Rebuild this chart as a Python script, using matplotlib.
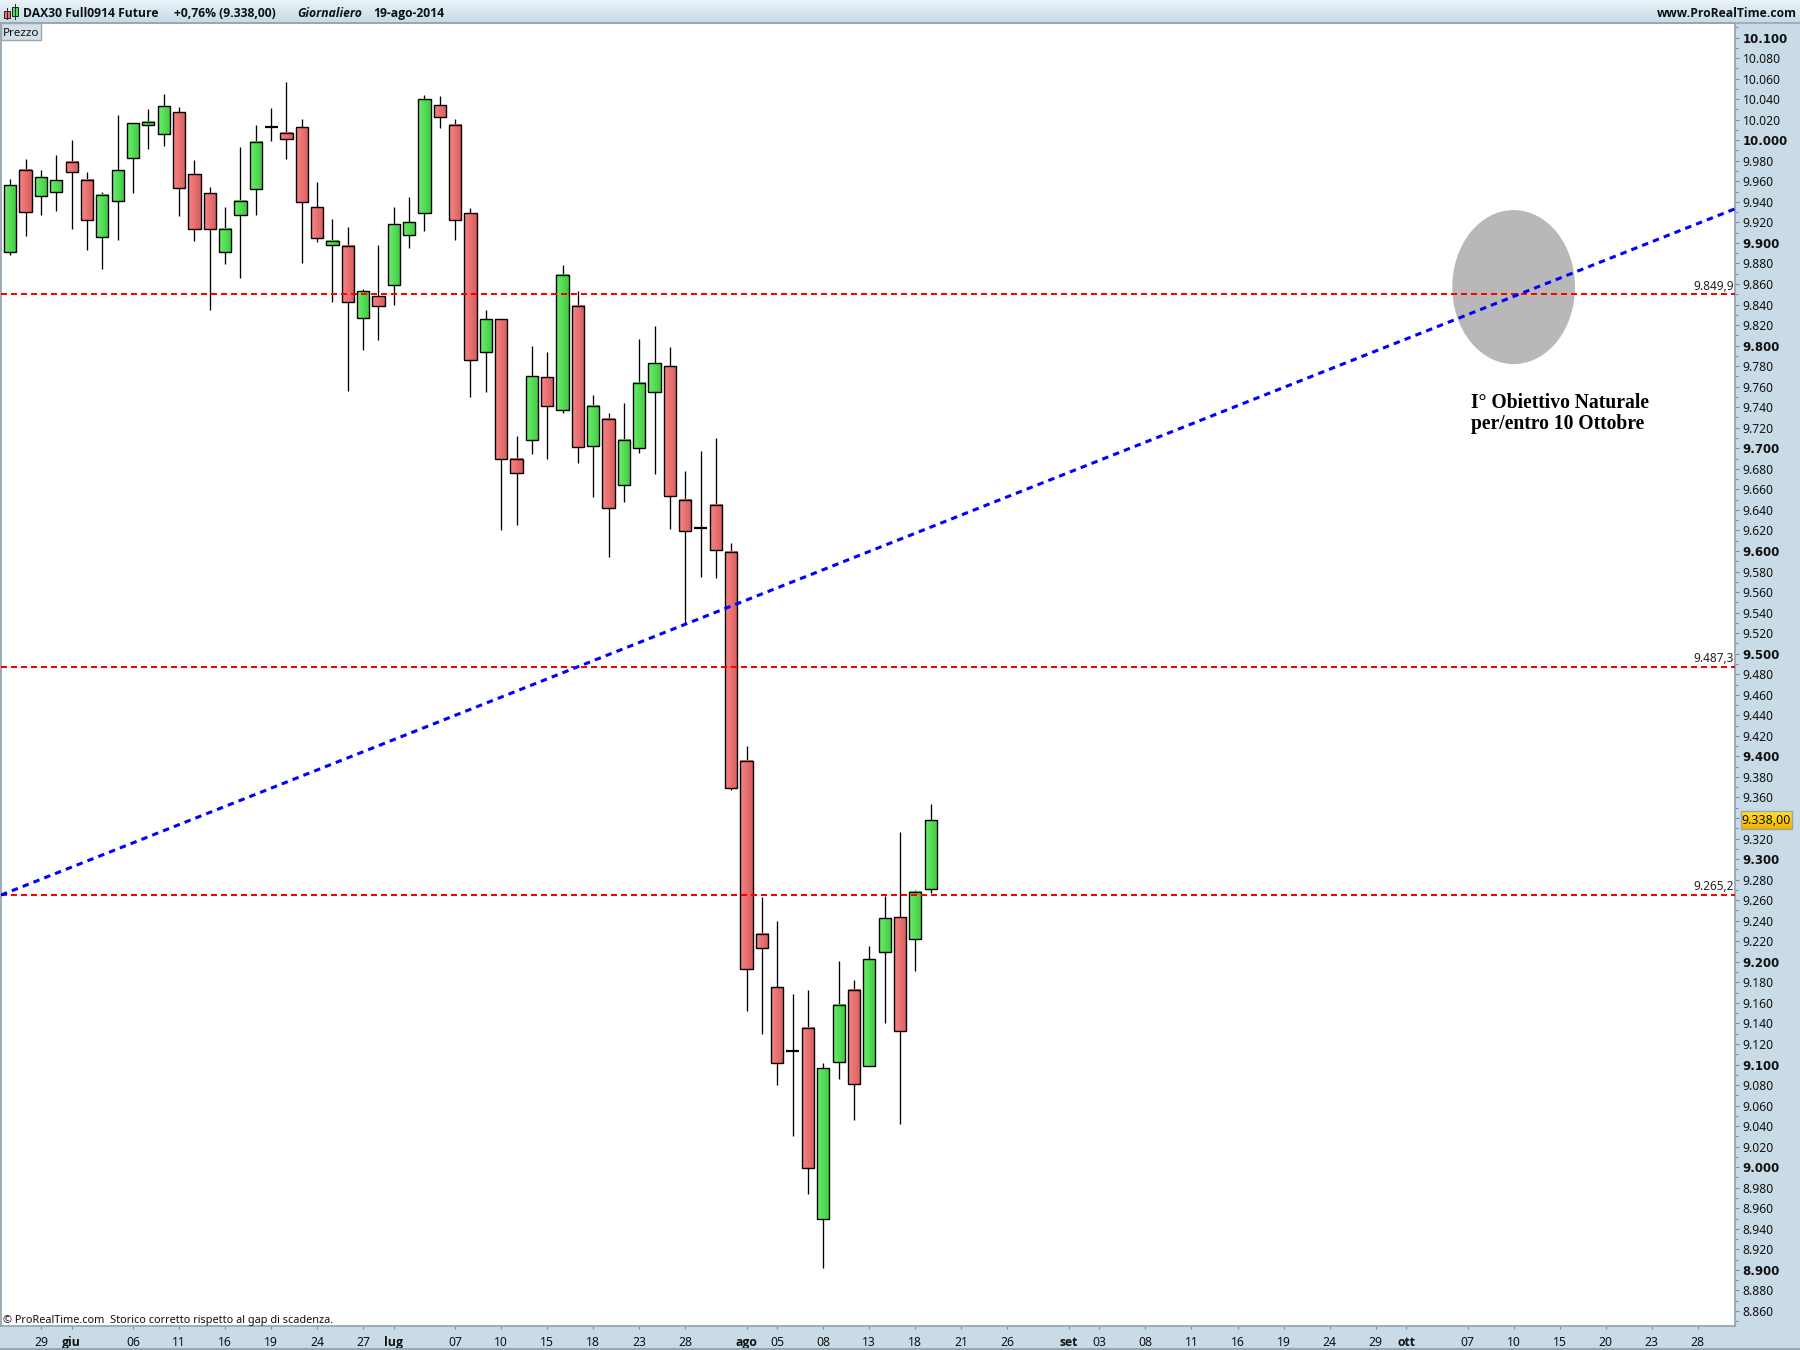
import matplotlib
matplotlib.use("Agg")
import matplotlib.pyplot as plt
import numpy as np
from matplotlib.colors import LinearSegmentedColormap
from matplotlib.patches import Ellipse, Rectangle

# candele giornaliere
open_ = [9891, 9971, 9946, 9950, 9979, 9961, 9906, 9941, 9983, 10015, 10006, 10027, 9967, 9949, 9891,
         9927, 9952, 10013, 10007, 10013, 9935, 9898, 9897, 9827, 9848, 9859, 9908, 9929, 10034, 10015,
         9929, 9794, 9826, 9690, 9708, 9769, 9737, 9839, 9702, 9729, 9664, 9700, 9755, 9780, 9650, 9622,
         9645, 9599, 9396, 9227, 9175, 9113, 9136, 8950, 9102, 9173, 9099, 9210, 9244, 9222, 9271]
high = [9962, 9982, 9971, 9986, 10000, 9969, 9950, 10025, 10017, 10030, 10045, 10032, 9981, 9954, 9935,
        9993, 10015, 10031, 10057, 10021, 9959, 9923, 9915, 9855, 9898, 9935, 9945, 10044, 10043, 10021,
        9934, 9835, 9826, 9712, 9800, 9794, 9878, 9853, 9752, 9734, 9744, 9806, 9819, 9799, 9678, 9697,
        9710, 9608, 9410, 9263, 9240, 9169, 9173, 9101, 9201, 9182, 9215, 9264, 9326, 9270, 9354]
low = [9888, 9907, 9927, 9931, 9914, 9893, 9875, 9903, 9949, 9991, 9994, 9926, 9902, 9835, 9879,
       9866, 9927, 9999, 9982, 9880, 9901, 9842, 9756, 9796, 9805, 9840, 9895, 9912, 10012, 9903,
       9750, 9755, 9620, 9625, 9694, 9690, 9734, 9686, 9653, 9594, 9648, 9695, 9675, 9621, 9529, 9575,
       9574, 9367, 9152, 9130, 9080, 9030, 8974, 8902, 9086, 9046, 9099, 9140, 9042, 9191, 9267]
close = [9956, 9930, 9964, 9961, 9969, 9922, 9947, 9971, 10017, 10018, 10033, 9953, 9914, 9914, 9914,
         9941, 9998, 10013, 10001, 9940, 9905, 9902, 9842, 9853, 9839, 9918, 9920, 10040, 10023, 9922,
         9786, 9826, 9690, 9676, 9770, 9741, 9869, 9701, 9741, 9642, 9708, 9764, 9783, 9654, 9619, 9622,
         9601, 9369, 9193, 9213, 9101, 9113, 8999, 9097, 9158, 9081, 9203, 9243, 9133, 9268, 9338]

levels = [9849.9, 9487.3, 9265.2]
level_labels = ["9.849,9", "9.487,3", "9.265,2"]

trend_x = [-0.6, 112.4]
trend_y = [9265, 9933]

target_x, target_y = 98, 9857
target_w, target_h = 8.0, 150

y_ticks = list(range(8860, 10101, 20))
y_minor = list(range(8850, 10111, 20))
last_price = 9338
hidden_tick = 9340  # coperto dal riquadro giallo

x_ticks = [2, 4, 8, 11, 14, 17, 20, 23, 25, 29, 32, 35, 38, 41, 44, 48, 50, 53, 56, 59, 62, 65, 69, 71, 74, 77,
           80, 83, 86, 89, 91, 95, 98, 101, 104, 107, 110]
x_labels = ["29", "giu", "06", "11", "16", "19", "24", "27", "lug", "07", "10", "15", "18", "23", "28", "ago",
            "05", "08", "13", "18", "21", "26", "set", "03", "08", "11", "16", "19", "24", "29", "ott", "07",
            "10", "15", "20", "23", "28"]
months = ["giu", "lug", "ago", "set", "ott"]

PANEL = "#c9dbe6"
BORDER = "#98a8b2"
GREEN = LinearSegmentedColormap.from_list("g", ["#68f068", "#44c844"])
RED = LinearSegmentedColormap.from_list("r", ["#fa8484", "#d65e5e"])
FONT = "Noto Sans"
HEAD_FONT = "Open Sans"


def fmt(v):
    return f"{v:,}".replace(",", ".")


fig = plt.figure(figsize=(18, 13.5), dpi=100, facecolor=PANEL)

# fondo in pixel: testata, pannelli
bg = fig.add_axes([0, 0, 1, 1])
bg.axis("off")
bg.imshow(np.linspace(0, 1, 32).reshape(-1, 1), extent=[0, 1800, 22, 0], aspect="auto",
          cmap=LinearSegmentedColormap.from_list("h", ["#e8f4f8", "#c8dbe6"]), zorder=1)
bg.set_xlim(0, 1800)
bg.set_ylim(1350, 0)

L, R, T, B = 1, 1735, 22.5, 1326
ax = fig.add_axes([L / 1800, 1 - B / 1350, (R - L) / 1800, (B - T) / 1350], zorder=2)
ax.set_facecolor("white")

body_w = 0.8
for i in range(len(open_)):
    o, h, l, c = open_[i], high[i], low[i], close[i]
    ax.plot([i, i], [l, h], color="black", lw=0.95, solid_capstyle="butt", zorder=2)
    if o == c:
        ax.plot([i - 0.42, i + 0.42], [o, o], color="black", lw=1.6, solid_capstyle="butt", zorder=3)
        continue
    cm = GREEN if c > o else RED
    lo, hi = min(o, c), max(o, c)
    ax.imshow(np.linspace(0, 1, 16).reshape(1, -1), extent=[i - body_w / 2, i + body_w / 2, lo, hi],
              aspect="auto", cmap=cm, zorder=3, interpolation="bilinear")
    ax.add_patch(Rectangle((i - body_w / 2, lo), body_w, hi - lo, fill=False, ec="black", lw=1.0, zorder=4))

ax.add_patch(Ellipse((target_x, target_y), target_w, target_h, fc="#b8b8b8", ec="none", zorder=1))

for lev, lab in zip(levels, level_labels):
    ax.axhline(lev, color="#ff0000", lw=1.44, dashes=(3, 2), zorder=5)
    ax.annotate(lab, (1, lev), xycoords=("axes fraction", "data"), xytext=(-1, 1.2), textcoords="offset points",
                ha="right", va="bottom", fontsize=8.5, family=FONT, color="#222222", zorder=6)
ax.plot(trend_x, trend_y, color="#0000ff", lw=2.2, dashes=(2.1, 1.7), zorder=6)

ax.set_xlim(-0.605, 112.43)
ax.set_ylim(10100 - (B - 37.5) / 1.027, 10100 + (37.5 - T) / 1.027)

ax.yaxis.tick_right()
ax.set_yticks(y_ticks)
ax.set_yticklabels(["" if v == hidden_tick else fmt(v) for v in y_ticks], family=FONT, fontsize=8.7,
                   color="#111111")
ax.set_yticks(y_minor, minor=True)
for lab, v in zip(ax.get_yticklabels(), y_ticks):
    if v % 100 == 0:
        lab.set_fontweight("bold")
        lab.set_family("DejaVu Sans")
        lab.set_fontsize(8.5)
ax.tick_params(axis="y", which="major", length=3, width=0.8, color="#7d8c96", pad=2.4)
ax.tick_params(axis="y", which="minor", length=2, width=0.8, color="#7d8c96")

ax.set_xticks(x_ticks)
ax.set_xticklabels(x_labels, family=FONT, fontsize=8.8, color="#111111")
for lab, s in zip(ax.get_xticklabels(), x_labels):
    if s in months:
        lab.set_fontweight("bold")
        lab.set_family(HEAD_FONT)
ax.tick_params(axis="x", length=2.5, width=0.8, color="#7d8c96", pad=5)

for side in ax.spines:
    ax.spines[side].set_color(BORDER)
    ax.spines[side].set_linewidth(1.3)

# testi e riquadri in pixel sopra il grafico
top = fig.add_axes([0, 0, 1, 1], zorder=3)
top.axis("off")
top.patch.set_alpha(0)

top.plot([0, 1800], [22.5, 22.5], color=BORDER, lw=1.2)
top.plot([0, 1800], [1349, 1349], color=BORDER, lw=1.5)
top.add_patch(Rectangle((1, 23), 40, 16.5, fc="#d3e0e8", ec=BORDER, lw=1))
top.text(3, 33, "Prezzo", fontsize=8.4, family=FONT, va="center", color="#111111")

top.plot([6.5, 6.5], [8, 19], color="#222222", lw=0.7)
top.add_patch(Rectangle((3.5, 11), 6, 7, fc="#f07070", ec="#222222", lw=0.7))
top.plot([14.5, 14.5], [4, 19], color="#222222", lw=0.7)
top.add_patch(Rectangle((11.5, 7), 6, 9, fc="#50e050", ec="#222222", lw=0.7))

head = dict(fontsize=8.7, family=HEAD_FONT, va="center", color="#111111", fontweight="bold")
top.text(23, 13.5, "DAX30 Full0914 Future", **head)
top.text(174, 13.5, "+0,76% (9.338,00)", **head)
top.text(297, 13.5, "Giornaliero", style="italic", **head)
top.text(373, 13.5, "19-ago-2014", **head)
top.text(1797, 13.5, "www.ProRealTime.com", ha="right", **head)

top.text(3, 1321, "© ProRealTime.com  Storico corretto rispetto al gap di scadenza.", fontsize=7.9,
         family=FONT, va="center", color="#111111")

serif = dict(fontsize=14.15, family="Liberation Serif", fontweight="bold", va="center", color="black")
top.text(1471, 403, "I° Obiettivo Naturale", **serif)
top.text(1471, 424, "per/entro 10 Ottobre", **serif)

top.imshow(np.linspace(0, 1, 16).reshape(-1, 1), extent=[1741, 1791.5, 829, 811], aspect="auto",
           cmap=LinearSegmentedColormap.from_list("y", ["#ffe030", "#f5b400"]), zorder=2)
top.add_patch(Rectangle((1741, 811), 50.5, 18, fill=False, ec="#9aa5a5", lw=1, zorder=3))
top.text(1766, 821, fmt(last_price) + ",00", fontsize=9, family=FONT, ha="center", va="center",
         color="#111111", zorder=4)

top.set_xlim(0, 1800)
top.set_ylim(1350, 0)

fig.savefig("out.png", dpi=100, facecolor=fig.get_facecolor())
